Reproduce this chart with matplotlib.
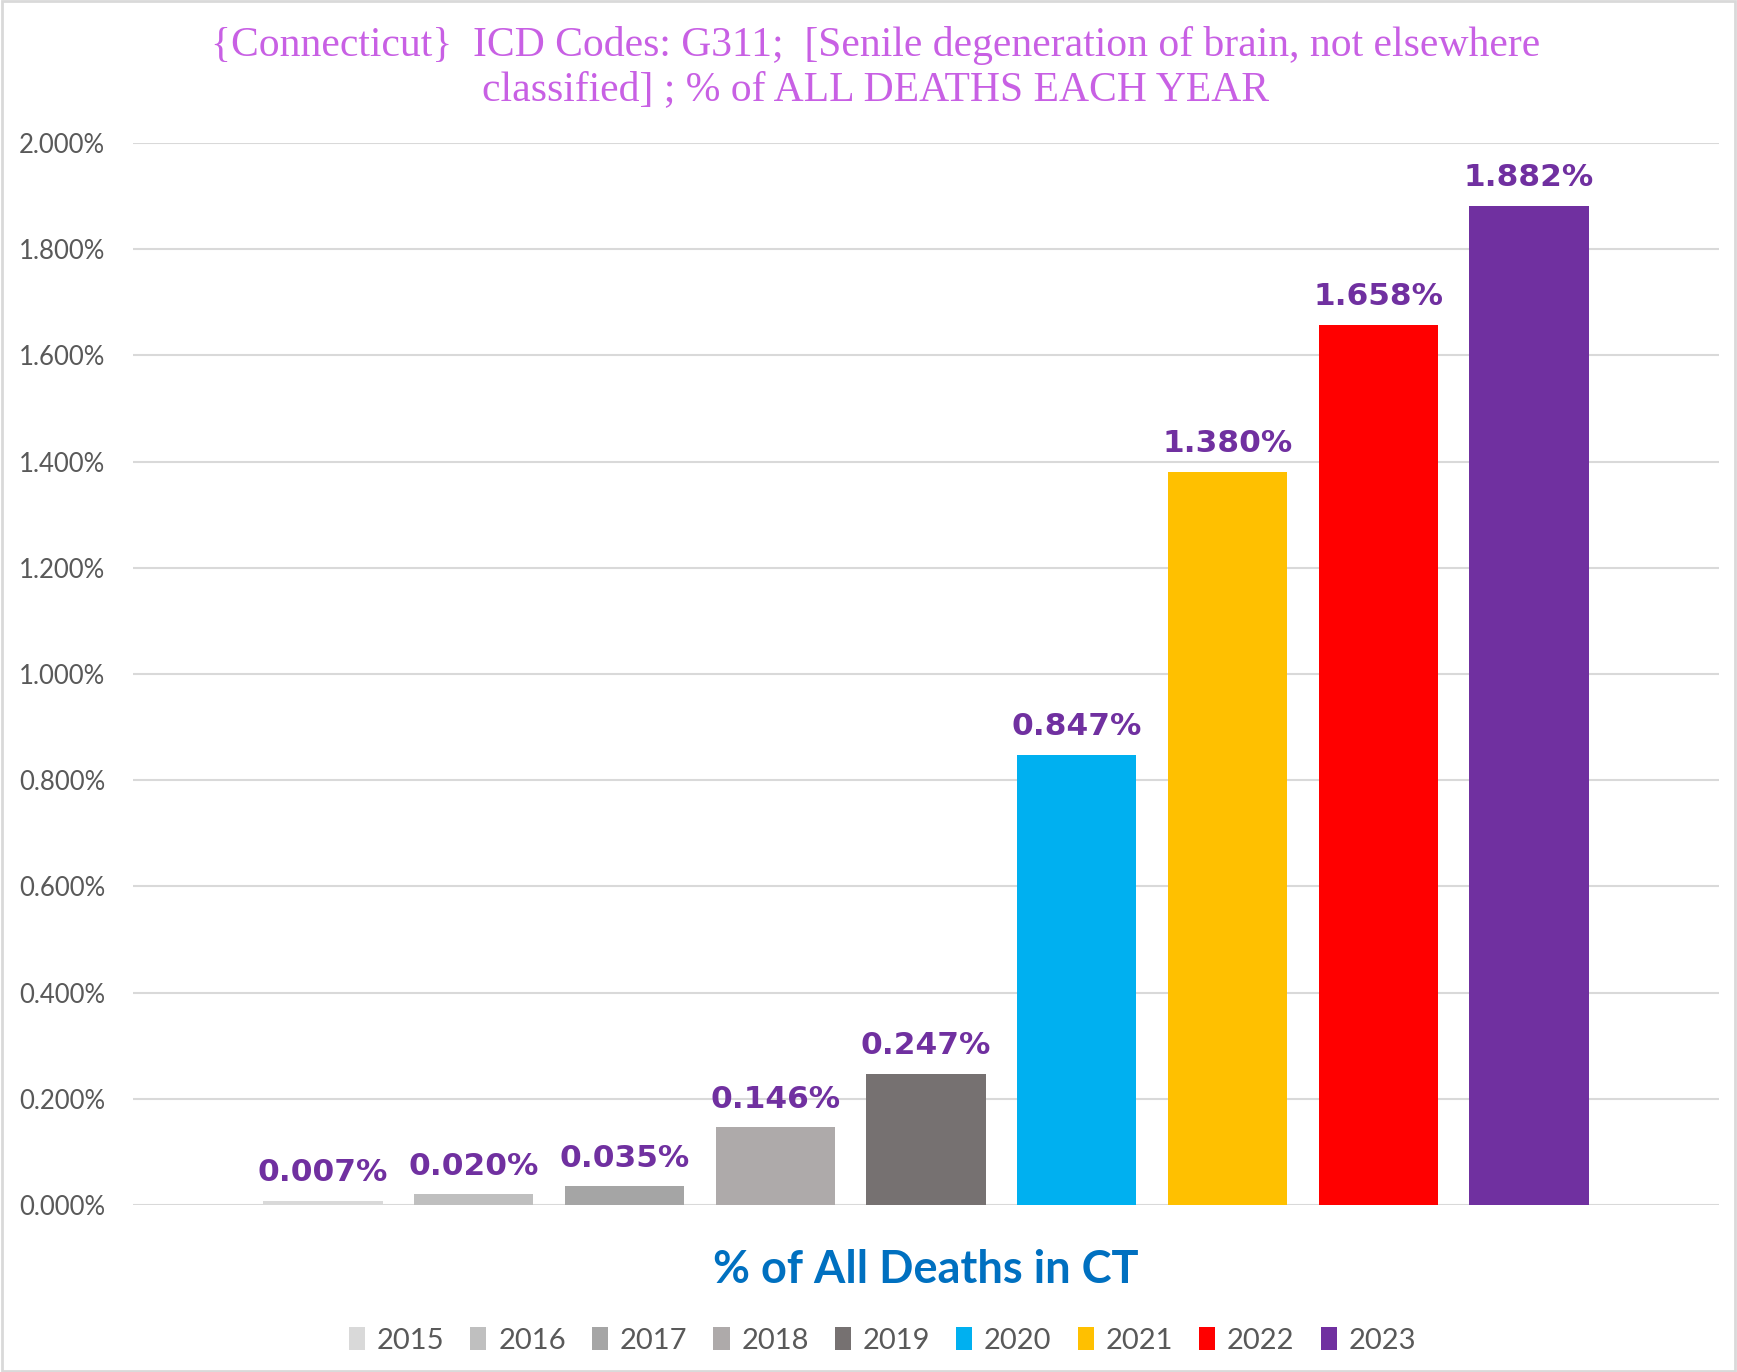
import matplotlib
matplotlib.use("Agg")
from matplotlib import pyplot as plt
from matplotlib.patches import Rectangle
from matplotlib.ticker import FuncFormatter

years = ["2015", "2016", "2017", "2018", "2019", "2020", "2021", "2022", "2023"]
pct_values = [0.007, 0.020, 0.035, 0.146, 0.247, 0.847, 1.380, 1.658, 1.882]
bar_colors = ["#D9D9D9", "#BFBFBF", "#A5A5A5", "#AEAAAA", "#767171",
              "#00B0F0", "#FFC000", "#FF0000", "#7030A0"]
y_ticks = [0.0, 0.2, 0.4, 0.6, 0.8, 1.0, 1.2, 1.4, 1.6, 1.8, 2.0]

title_text = ("{Connecticut}  ICD Codes: G311;  [Senile degeneration of brain, not elsewhere\n"
              "classified] ; % of ALL DEATHS EACH YEAR")
xlabel_text = "% of All Deaths in CT"


def run():
    fig = plt.figure(figsize=(17.37, 13.72), dpi=100)
    ax = fig.add_axes([0.0766, 0.1217, 0.913, 0.7741])

    x = list(range(len(years)))
    bars = ax.bar(x, pct_values, width=0.79, color=bar_colors, label=years, zorder=3)

    for xi, v in zip(x, pct_values):
        ax.annotate(f"{v:.3f}%", (xi, v), xytext=(0, 10), textcoords="offset points",
                    ha="center", va="bottom", fontsize=22.5, fontweight="bold",
                    color="#7030A0", family="DejaVu Sans")

    ax.set_xlim(-1.26, len(years) - 1 + 1.26)
    ax.set_ylim(0, 2.0)
    ax.set_yticks(y_ticks)
    ax.yaxis.set_major_formatter(FuncFormatter(lambda v, p: f"{v:.3f}%"))
    ax.tick_params(axis="y", length=0, labelsize=18.5, labelcolor="#595959", pad=20)
    ax.set_xticks([])
    for lab in ax.get_yticklabels():
        lab.set_family("Lato")
    ax.grid(axis="y", color="#D9D9D9", linewidth=1.5, zorder=0)
    for s in ax.spines.values():
        s.set_visible(False)

    fig.text(0.504, 0.951, title_text, ha="center", va="center", fontsize=30,
             color="#C860E4", family="Liberation Serif", linespacing=1.2)

    fig.text(0.533, 0.074, xlabel_text, ha="center", va="center", fontsize=32.5,
             fontweight="bold", color="#0070C0", family="Lato")

    leg = fig.legend(bars, years, loc="center", bbox_to_anchor=(0.508, 0.023),
                     ncol=len(years), frameon=False, fontsize=21,
                     handlelength=0.55, handleheight=0.85, handletextpad=0.4,
                     columnspacing=0.9)
    for t in leg.get_texts():
        t.set_color("#595959")
        t.set_family("Lato")

    fig.add_artist(Rectangle((0.001, 0.001), 0.998, 0.998, transform=fig.transFigure,
                             fill=False, edgecolor="#D9D9D9", linewidth=2))

    fig.savefig("out.png", dpi=100)


if __name__ == "__main__":
    run()
